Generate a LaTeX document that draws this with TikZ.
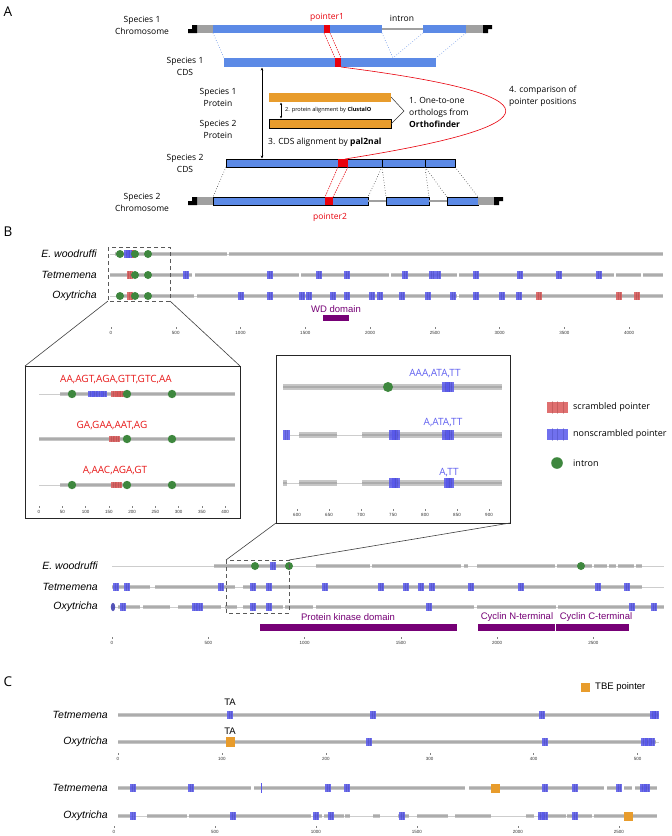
\documentclass[tikz,border=0pt]{standalone}
\usepackage{fontspec}
\setmainfont{Open Sans}
\newfontfamily\hv{Liberation Sans}
\usetikzlibrary{arrows.meta}
\definecolor{cblue}{RGB}{92,138,230}
\definecolor{cred}{RGB}{232,0,12}
\definecolor{cgrey}{RGB}{160,160,160}
\definecolor{corange}{RGB}{232,156,44}
\definecolor{pblue}{RGB}{88,88,236}
\definecolor{pred}{RGB}{218,88,88}
\definecolor{igreen}{RGB}{62,135,62}
\definecolor{dpurple}{RGB}{118,0,118}
\definecolor{gbarc}{RGB}{198,198,198}
\definecolor{gmidc}{RGB}{172,172,172}
\definecolor{tlc}{RGB}{205,205,205}
\definecolor{itxtred}{RGB}{232,24,24}
\definecolor{itxtblue}{RGB}{96,96,240}
\newcounter{tk}
\def\bh{2.2}\def\pw{3}\def\ph{4}\def\ir{4}
\newcommand\GB[3]{\fill[gbarc] (#1,#3-\bh) rectangle (#2,#3+\bh); \draw[gmidc,line width=1.2pt] (#1,#3) -- (#2,#3);}
\newcommand\TL[3]{\draw[tlc,line width=0.8pt] (#1,#3) -- (#2,#3);}
\newcommand\BP[2]{\fill[pblue,opacity=0.85] (#1-\pw,#2-\ph) rectangle (#1+\pw,#2+\ph); \draw[pblue!70!black,opacity=0.35,line width=0.4pt] (#1-1,#2-\ph) -- (#1-1,#2+\ph) (#1+1,#2-\ph) -- (#1+1,#2+\ph);}
\newcommand\RP[2]{\fill[pred,opacity=0.85] (#1-\pw,#2-\ph) rectangle (#1+\pw,#2+\ph); \draw[pred!70!black,opacity=0.35,line width=0.4pt] (#1-1,#2-\ph) -- (#1-1,#2+\ph) (#1+1,#2-\ph) -- (#1+1,#2+\ph);}
\newcommand\IN[2]{\fill[igreen] (#1,#2) circle (\ir pt);}
\newcommand\TK[3]{\stepcounter{tk}\draw[gray,line width=0.3pt] (#1,#2-6) -- (#1,#2-4.5); \node[tick] (tk\thetk) at (#1,#2) {#3};}
\newcommand\CapL[2]{\fill[black] (#1,#2+4) -- (#1,#2) -- (#1+4,#2) -- (#1+4,#2-4) -- (#1+9,#2-4) -- (#1+9,#2+4) -- cycle;}
\newcommand\CapR[2]{\fill[black] (#1,#2-4) -- (#1+9,#2-4) -- (#1+9,#2) -- (#1+5,#2) -- (#1+5,#2+4) -- (#1,#2+4) -- cycle;}
\tikzset{
 lab/.style={font=\fontsize{8.5}{12}\selectfont, align=center, inner sep=0pt},
 smalllab/.style={font=\fontsize{5.6}{7}\selectfont, inner sep=0pt},
 panel/.style={font=\fontsize{13.5}{14}\selectfont, inner sep=0pt},
 spec/.style={font=\hv\itshape\fontsize{10.5}{12}\selectfont, anchor=east, inner sep=0pt},
 tick/.style={font=\hv\fontsize{4.5}{5}\selectfont, inner sep=0pt, text=black!80},
 seqlab/.style={font=\fontsize{10}{11}\selectfont, inner sep=0pt},
 dom/.style={font=\hv\fontsize{9.5}{11}\selectfont, inner sep=0pt, text=dpurple},
 legtxt/.style={font=\fontsize{9}{11}\selectfont, anchor=west, inner sep=0pt},
 dbox/.style={draw=black!65, dashed, dash pattern=on 4pt off 3pt, line width=0.8pt},
 ibox/.style={draw=black!85, line width=0.9pt},
 zoomline/.style={draw=black!75, line width=0.6pt},
 bluedot/.style={draw=cblue, dotted, line width=0.6pt},
 blackdot/.style={draw=black!80, dotted, line width=0.6pt},
 reddash/.style={draw=cred, dashed, dash pattern=on 1.5pt off 1pt, line width=0.5pt},
 blueframe/.style={fill=cblue, draw=black, line width=0.6pt},
}
\begin{document}
\begin{tikzpicture}[x=1pt,y=-1pt]
\useasboundingbox (0,0) rectangle (672,836);
\fill[white] (0,0) rectangle (672,836);

%================ PANEL A =================
\node[panel] (pA) at (8,12) {A};
\node[lab] (s1chr) at (142,25) {Species 1\\Chromosome};
\node[lab] (s1cds) at (185,66) {Species 1\\CDS};
\node[lab] (s1pro) at (218,97) {Species 1\\Protein};
\node[lab] (s2pro) at (218,129) {Species 2\\Protein};
\node[lab] (s2cds) at (185,163) {Species 2\\CDS};
\node[lab] (s2chr) at (142,202) {Species 2\\Chromosome};
\node[lab,text=cred] (p1) at (327,17) {pointer1};
\node[lab] (intrlab) at (402,18) {intron};
\node[lab,text=cred] (p2) at (330,217) {pointer2};

% chromosome 1
\fill[cgrey] (197,25) rectangle (213,33);
\fill[cblue] (213,25) rectangle (382,33);
\fill[cred] (324,25) rectangle (330,33);
\draw[cgrey,line width=2pt] (382,29) -- (423,29);
\fill[cblue] (423,25) rectangle (466,33);
\fill[cgrey] (466,25) rectangle (483,33);
\CapL{188}{29}
\CapR{483}{29}

% CDS 1
\fill[cblue] (224,58) rectangle (436,67);
\fill[cred] (335,58) rectangle (341,67);
\draw[bluedot] (213,33) -- (224,58);
\draw[bluedot] (382,33) -- (393,58);
\draw[bluedot] (423,33) -- (393,58);
\draw[bluedot] (466,33) -- (436,58);
\draw[reddash] (324,33) -- (335,58);
\draw[reddash] (330,33) -- (341,58);

% proteins
\fill[corange] (269,93) rectangle (391,102);
\filldraw[fill=corange,draw=black,line width=0.8pt] (269,119) rectangle (391,128);
\draw[{Stealth[length=2.5pt,width=2.2pt]}-{Stealth[length=2.5pt,width=2.2pt]},line width=0.4pt] (281,102.5) -- (281,118.5);
\node[smalllab,anchor=west] (clu) at (285,110.5) {2. protein alignment by \textbf{ClustalO}};
\draw[black!80,line width=0.5pt] (391,97) -- (404,111) -- (391,124);
\node[lab,anchor=west,align=left] (orth) at (409,112) {1. One-to-one\\orthologs from\\\textbf{Orthofinder}};

% CDS alignment arrow
\draw[{Stealth[length=3pt,width=2.6pt]}-{Stealth[length=3pt,width=2.6pt]},line width=0.5pt] (262,67.5) -- (262,158.5);
\node[lab,anchor=west] (pal) at (268,142) {3. CDS alignment by \textbf{pal2nal}};

% comparison curve
\draw[cred,line width=0.6pt] (341,67) .. controls (560,95) and (560,125) .. (345,159);
\node[lab,anchor=west,align=left] (cmp) at (509,96) {4. comparison of\\pointer positions};

% CDS 2
\filldraw[blueframe] (226,159) rectangle (455,167);
\draw[black,line width=0.6pt] (382,159) -- (382,167) (425,159) -- (425,167);
\fill[cred] (338,159.4) rectangle (348,166.6);

% chromosome 2
\fill[cgrey] (197,197) rectangle (213,205);
\filldraw[blueframe] (213,197) rectangle (368,205);
\fill[cred] (325,197.4) rectangle (333,204.6);
\draw[cgrey,line width=2pt] (368,201) -- (386,201);
\filldraw[blueframe] (386,197) rectangle (429,205);
\draw[cgrey,line width=2pt] (429,201) -- (447,201);
\filldraw[blueframe] (447,197) rectangle (478,205);
\fill[cgrey] (478.3,197) rectangle (494,205);
\CapL{188}{201}
\CapR{494}{201}
\draw[blackdot] (226,167) -- (213,197);
\draw[blackdot] (382,167) -- (368,197);
\draw[blackdot] (382,167) -- (386,197);
\draw[blackdot] (425,167) -- (429,197);
\draw[blackdot] (425,167) -- (447,197);
\draw[blackdot] (455,167) -- (478,197);
\draw[reddash] (338,167) -- (325,197);
\draw[reddash] (348,167) -- (333,197);

%================ PANEL B =================
\node[panel] (pB) at (8,232) {B};
\node[spec] (ew1) at (97,254) {E. woodruffi};
\node[spec] (te1) at (97,275) {Tetmemena};
\node[spec] (ox1) at (97,296) {Oxytricha};

% E. woodruffi top
\TL{110}{663}{254}
\GB{115}{227}{254} \GB{229}{663}{254}
\BP{127}{254} \BP{130}{254}
\fill[pred] (132.3,250) rectangle (134,258);
\IN{120}{254} \IN{135}{254} \IN{148}{254}

% Tetmemena top
\GB{110}{192}{275} \GB{195}{299}{275} \GB{301}{389}{275} \GB{391}{457}{275}
\GB{459}{614}{275} \GB{616}{641}{275} \GB{643}{663}{275}
\RP{129.5}{275}
\foreach \p in {186,270,319,347,405,432,438,476,520,559,599} {\BP{\p}{275}}
\IN{135}{275} \IN{148}{275}

% Oxytricha top
\TL{110}{663}{296}
\GB{116}{194}{296} \GB{197}{457}{296} \GB{459}{663}{296}
\RP{130}{296}
\foreach \p in {241,270,302,309,333,347,372,380,402,428,453,476,502,519} {\BP{\p}{296}}
\foreach \p in {539,619,637} {\RP{\p}{296}}
\IN{120}{296} \IN{135}{296} \IN{148}{296}

% dashed zoom box top
\draw[dbox] (108,247) rectangle (170,301);
\coordinate (zb1sw) at (108,301);
\coordinate (zb1se) at (170,301);

% WD domain
\node[dom] (wd) at (336,309) {WD domain};
\fill[dpurple] (323,315) rectangle (349,321);

% axis top
\foreach \v in {0,500,...,4000} {\pgfmathsetmacro\xx{111+0.1295*\v}\TK{\xx}{333}{\v}}

% left inset
\draw[ibox] (25,366) rectangle (240,518);
\coordinate (li-nw) at (25,366);
\coordinate (li-ne) at (240,366);
\draw[zoomline] (zb1sw) -- (li-nw);
\draw[zoomline] (zb1se) -- (li-ne);
\begin{scope}
\def\bh{2.3}\def\pw{3.2}\def\ph{3.2}\def\ir{4.2}
\node[seqlab,text=itxtred] (l1) at (116,380) {AA,AGT,AGA,GTT,GTC,AA};
\TL{39}{60}{394} \GB{60}{235}{394}
\BP{91}{394} \BP{95}{394} \BP{100}{394} \BP{104}{394}
\RP{114}{394} \RP{118}{394} \RP{121}{394}
\IN{72}{394} \IN{127}{394} \IN{172}{394}
\node[seqlab,text=itxtred] (l2) at (112,426) {GA,GAA,AAT,AG};
\GB{39}{235}{439}
\RP{112}{439} \RP{117}{439}
\IN{127}{439} \IN{172}{439}
\node[seqlab,text=itxtred] (l3) at (115,471) {A,AAC,AGA,GT};
\TL{39}{60}{485} \GB{60}{235}{485}
\RP{114}{485} \RP{119}{485}
\IN{72}{485} \IN{127}{485} \IN{172}{485}
\end{scope}
\foreach \v in {0,50,...,400} {\pgfmathsetmacro\xx{39+0.4653*\v}\TK{\xx}{512}{\v}}

% right inset
\draw[ibox] (276,355) rectangle (510,523);
\coordinate (ri-sw) at (276,523);
\coordinate (ri-se) at (510,523);
\begin{scope}
\def\bh{2.9}\def\pw{3.6}\def\ph{4.6}\def\ir{5}
\node[seqlab,text=itxtblue] (r1) at (435,374) {AAA,ATA,TT};
\GB{283}{502}{387}
\BP{446}{387} \BP{450}{387}
\IN{388}{387}
\node[seqlab,text=itxtblue] (r2) at (443,423) {A,ATA,TT};
\TL{290}{362}{435}
\GB{299}{337}{435} \GB{362}{502}{435}
\BP{286.5}{435}
\BP{393}{435} \BP{396}{435}
\BP{446}{435} \BP{450}{435}
\node[seqlab,text=itxtblue] (r3) at (449,473) {A,TT};
\TL{287}{362}{483}
\GB{283}{287}{483}
\GB{299}{337}{483} \GB{362}{502}{483}
\BP{393}{483} \BP{396}{483}
\BP{447.5}{483} \BP{450}{483}
\end{scope}
\foreach \v in {600,650,...,900} {\pgfmathsetmacro\xx{297+0.64*(\v-600)}\TK{\xx}{515}{\v}}

% legend
\fill[pred,opacity=0.85] (547,402) rectangle (568,413);
\draw[pred!70!black,opacity=0.35,line width=0.4pt] (552,401) -- (552,414) (557,401) -- (557,414) (563,401) -- (563,414);
\node[legtxt] (lg1) at (573,407.5) {scrambled pointer};
\fill[pblue,opacity=0.85] (547,429) rectangle (568,440);
\draw[pblue!70!black,opacity=0.35,line width=0.4pt] (552,428) -- (552,441) (557,428) -- (557,441) (563,428) -- (563,441);
\node[legtxt] (lg2) at (573,434.5) {nonscrambled pointer};
\fill[igreen] (557,463) circle (5.8pt);
\node[legtxt] (lg3) at (573,463) {intron};

% lower group
\node[spec] (ew2) at (98,566) {E. woodruffi};
\node[spec] (te2) at (98,587) {Tetmemena};
\node[spec] (ox2) at (98,607) {Oxytricha};

\TL{112}{664}{566}
\GB{214}{288}{566} \GB{316}{370}{566} \GB{372}{461}{566} \GB{464}{468}{566}
\GB{477}{555}{566} \GB{557}{592}{566} \GB{594}{607}{566} \GB{609}{616}{566}
\GB{618}{634}{566} \GB{636}{642}{566}
\BP{273}{566}
\IN{255}{566} \IN{289}{566} \IN{581}{566}

\TL{112}{664}{587}
\GB{112}{150}{587} \GB{155}{235}{587} \GB{243}{642}{587}
\foreach \p in {116,127,221,253,269,325,381,406,421,432,471,521,598,627} {\BP{\p}{587}}

\TL{112}{664}{607}
\GB{118}{140}{607} \GB{143}{170}{607} \GB{178}{221}{607} \GB{225}{237}{607}
\GB{243}{283}{607} \GB{285}{313}{607} \GB{316}{474}{607} \GB{477}{556}{607}
\GB{558}{664}{607}
\fill[pblue!75!black,opacity=0.9] (113,607) ellipse (2.2pt and 4.2pt);
\foreach \p in {123,195,200,253,269,429,632,654} {\BP{\p}{607}}

\draw[dbox] (226,560) rectangle (289,613);
\coordinate (zb2nw) at (226,560);
\coordinate (zb2ne) at (289,560);
\draw[zoomline] (ri-sw) -- (zb2nw);
\draw[zoomline] (ri-se) -- (zb2ne);

\node[dom] (pk) at (348,617) {Protein kinase domain};
\fill[dpurple] (260,624) rectangle (457,631);
\node[dom] (cn) at (517,617) {Cyclin N-terminal};
\fill[dpurple] (478,624) rectangle (554.5,631);
\node[dom] (cc) at (596,617) {Cyclin C-terminal};
\fill[dpurple] (555.5,624) rectangle (629,631);

\foreach \v in {0,500,...,2500} {\pgfmathsetmacro\xx{112+0.1925*\v}\TK{\xx}{643}{\v}}

%================ PANEL C =================
\node[panel] (pC) at (8,682) {C};
\fill[corange] (581,683) rectangle (590,691.5);
\node[legtxt,font=\hv\fontsize{9.5}{11}\selectfont] (tbe) at (595,687) {TBE pointer};

\node[spec] (te3) at (108,715) {Tetmemena};
\node[spec] (ox3) at (108,742) {Oxytricha};
\GB{118}{659}{715}
\foreach \p in {230,373,542,653,656} {\BP{\p}{715}}
\node[font=\hv\fontsize{9.5}{11}\selectfont,inner sep=0pt] (ta1) at (230,702) {TA};
\TL{118}{659}{742}
\GB{118}{656}{742}
\foreach \p in {369,545,644,648,652} {\BP{\p}{742}}
\fill[corange] (225.5,737) rectangle (234.5,747);
\node[font=\hv\fontsize{9.5}{11}\selectfont,inner sep=0pt] (ta2) at (230,731) {TA};
\foreach \v in {0,100,...,500} {\pgfmathsetmacro\xx{118+1.039*\v}\TK{\xx}{759}{\v}}

\node[spec] (te4) at (108,788) {Tetmemena};
\node[spec] (ox4) at (108,816) {Oxytricha};
\GB{118}{251}{788} \GB{254}{465}{788} \GB{469}{604}{788} \GB{607}{621}{788}
\GB{624}{632}{788} \GB{635}{657}{788}
\foreach \p in {133,191,328,347,545,575,619,643,647} {\BP{\p}{788}}
\draw[pblue,line width=0.6pt] (261,783) -- (261,793);
\fill[corange] (491,783.5) rectangle (499.5,792.5);

\TL{118}{657}{816}
\GB{118}{130}{816} \GB{147}{187}{816} \GB{189}{311}{816} \GB{313}{322}{816}
\GB{324}{344}{816} \GB{345}{350}{816} \GB{373}{380}{816} \GB{398}{409}{816}
\GB{417}{448}{816} \GB{455}{491}{816} \GB{526}{534}{816} \GB{538}{566}{816}
\GB{567}{592}{816} \GB{594}{657}{816}
\foreach \p in {133,233,316,331,402,541,545,575} {\BP{\p}{816}}
\fill[corange] (624,811.5) rectangle (632.5,820.5);
\foreach \v in {0,500,...,2500} {\pgfmathsetmacro\xx{114+0.202*\v}\TK{\xx}{832}{\v}}
\end{tikzpicture}
\end{document}
